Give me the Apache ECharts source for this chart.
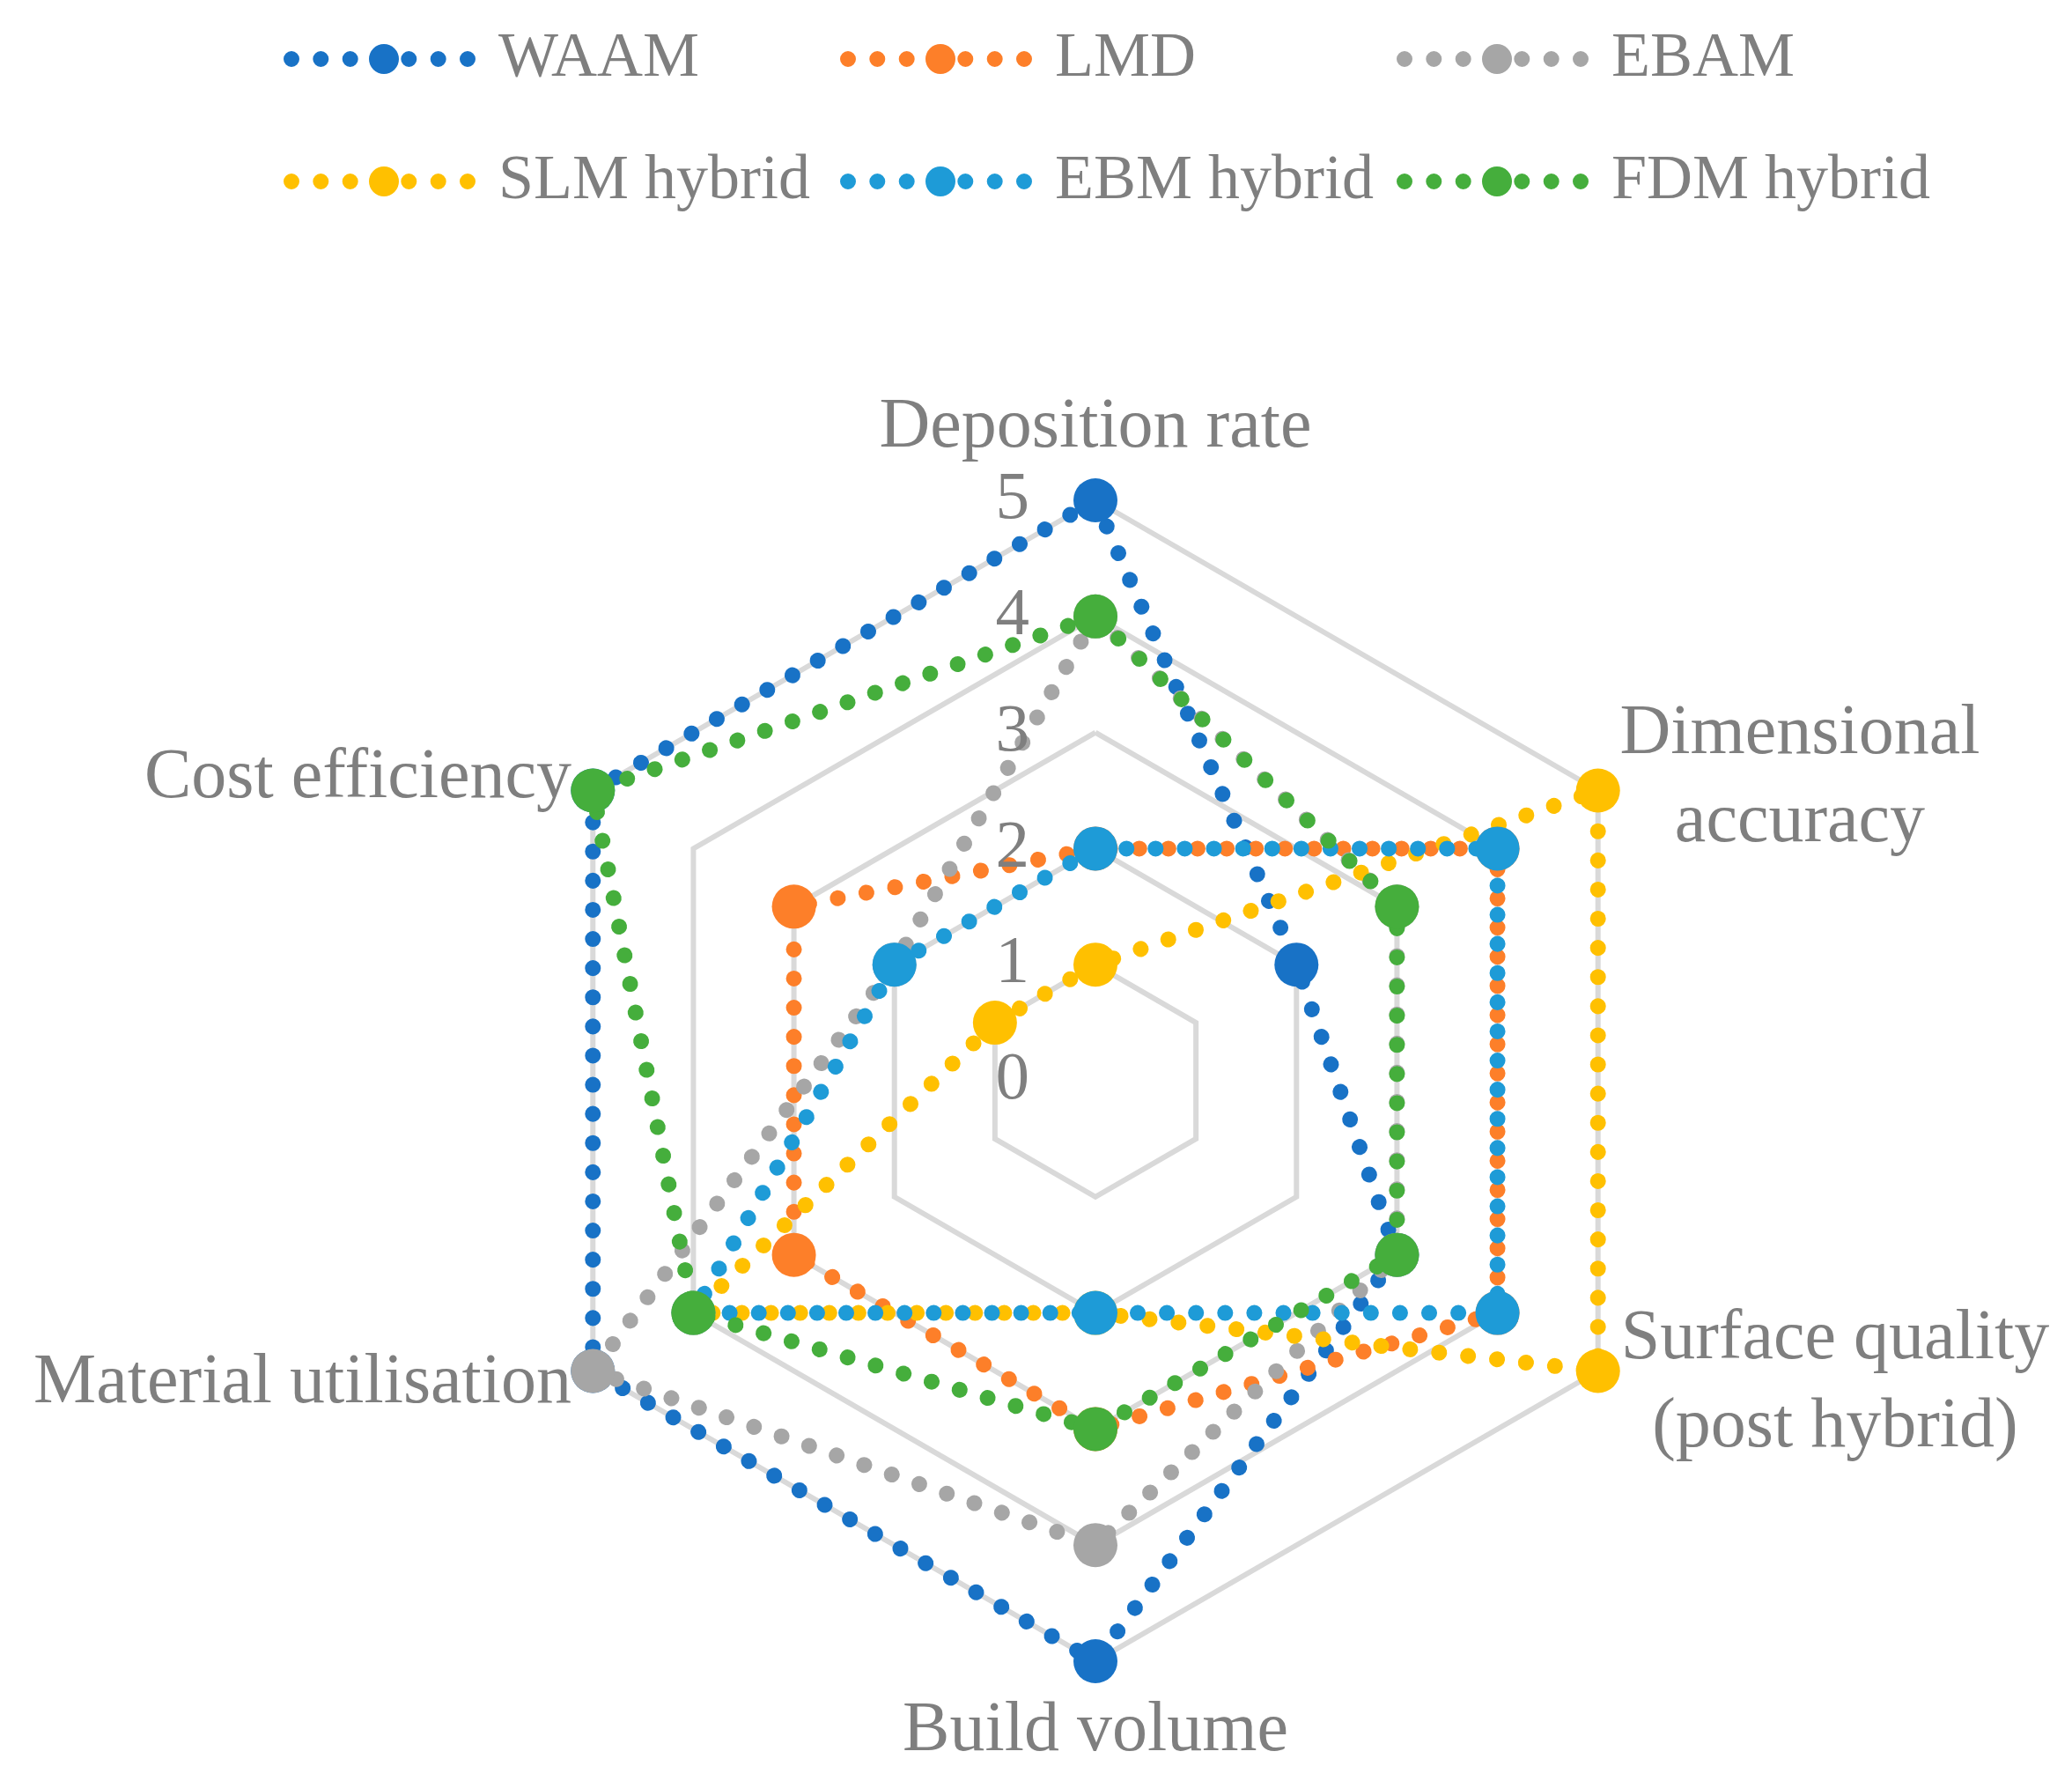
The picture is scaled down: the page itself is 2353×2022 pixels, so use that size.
<!DOCTYPE html>
<html><head><meta charset="utf-8">
<script src="https://cdn.jsdelivr.net/npm/echarts@6/dist/echarts.min.js"></script>
<style>html,body{margin:0;padding:0;background:#fff}#c{width:2353px;height:2022px}</style>
</head><body><div id="c"></div>
<script>
// Categories listed clockwise starting at the top
const categories = ['Deposition rate', 'Dimensional\naccuracy', 'Surface quality\n(post hybrid)', 'Build volume', 'Material utilisation', 'Cost efficiency'];
const seriesNames = ['WAAM', 'LMD', 'EBAM', 'SLM hybrid', 'EBM hybrid', 'FDM hybrid'];
const waam = [5, 2, 3, 5, 5, 5];
const lmd  = [2, 4, 4, 3, 3, 3];
const ebam = [4, 3, 3, 4, 5, 2];
const slm  = [1, 5, 5, 2, 4, 1];
const ebm  = [2, 4, 4, 2, 4, 2];
const fdm  = [4, 3, 3, 3, 4, 5];
const tickLabels = ['0', '1', '2', '3', '4', '5'];
const colors = ['#1872C6', '#FD7F29', '#A6A6A6', '#FFC000', '#1E9BD7', '#45AE3C'];

const allValues = [waam, lmd, ebam, slm, ebm, fdm];
const FONT = '"Liberation Serif", "DejaVu Serif", serif';
const TEXT = '#7F7F7F';
const GRID = '#D9D9D9';
const CX = 1244, CY = 1227, R = 659;

// ECharts places indicators counter-clockwise: reorder the clockwise list
const order = [0, 5, 4, 3, 2, 1];
const richKey = ['top', 'd', 's', 'bottom', 'p', 'p'];
const indicators = order.map(i => ({ name: categories[i], min: 0, max: 5, key: richKey[i] }));

function circ(cx, cy, r) {
  return 'M' + (cx - r) + ' ' + cy + ' A' + r + ' ' + r + ' 0 1 0 ' + (cx + r) + ' ' + cy +
         ' A' + r + ' ' + r + ' 0 1 0 ' + (cx - r) + ' ' + cy + ' Z';
}
const iconPath = 'path://' + [circ(9, 17, 9), circ(42.3, 17, 9), circ(75.7, 17, 9), circ(114, 17, 17),
  circ(142.3, 17, 9), circ(175.7, 17, 9), circ(209, 17, 9)].join(' ');

function legendCfg(names, centerY) {
  return {
    data: names.map(n => ({ name: n, itemStyle: { color: colors[seriesNames.indexOf(n)], borderWidth: 0 } })),
    icon: iconPath,
    left: 322, top: centerY - 40,
    padding: 0,
    orient: 'horizontal',
    itemWidth: 218, itemHeight: 34, itemGap: 18,
    selectedMode: false,
    itemStyle: { borderWidth: 0 },
    textStyle: { fontFamily: FONT, fontSize: 72, color: TEXT, lineHeight: 80, width: 370, padding: [0, 0, 0, 21] }
  };
}

const chart = echarts.init(document.getElementById('c'), null, { renderer: 'canvas' });
chart.setOption({
  animation: false,
  backgroundColor: '#fff',
  legend: [legendCfg(seriesNames.slice(0, 3), 67), legendCfg(seriesNames.slice(3), 206)],
  radar: {
    center: [CX, CY],
    radius: R,
    startAngle: 90,
    shape: 'polygon',
    splitNumber: 5,
    indicator: indicators.map(d => ({ name: d.name, min: d.min, max: d.max })),
    nameGap: 28,
    axisName: {
      color: TEXT, fontFamily: FONT, fontSize: 80,
      formatter: function (name) {
        const ind = indicators.find(d => d.name === name);
        const k = ind ? ind.key : 'p';
        return name.split('\n').map(l => '{' + k + '|' + l + '}').join('\n');
      },
      rich: {
        p: { fontFamily: FONT, fontSize: 80, color: TEXT, lineHeight: 100 },
        top: { fontFamily: FONT, fontSize: 80, color: TEXT, lineHeight: 100, padding: [0, 0, 8, 0] },
        bottom: { fontFamily: FONT, fontSize: 80, color: TEXT, lineHeight: 100, padding: [3, 0, 0, 0] },
        d: { fontFamily: FONT, fontSize: 80, color: TEXT, lineHeight: 100, width: 410, align: 'center' },
        s: { fontFamily: FONT, fontSize: 80, color: TEXT, lineHeight: 100, width: 490, align: 'center' }
      }
    },
    axisLine: { show: false },
    axisTick: { show: false },
    axisLabel: { show: false },
    splitArea: { show: false },
    splitLine: { show: true, lineStyle: { color: GRID, width: 6 } }
  },
  polar: { center: [CX, CY], radius: R },
  angleAxis: { type: 'value', min: 0, max: 360, startAngle: 90, show: false },
  radiusAxis: {
    type: 'value', min: 0, max: 5, interval: 1, z: 20,
    axisLine: { show: false }, axisTick: { show: false }, splitLine: { show: false },
    axisLabel: {
      margin: 75, fontFamily: FONT, fontSize: 77, color: TEXT,
      formatter: v => tickLabels[Math.round(v)]
    }
  },
  series: seriesNames.map((n, si) => ({
    type: 'radar',
    name: n,
    symbol: 'circle',
    symbolSize: 50,
    z: 2 + si,
    itemStyle: { color: colors[si], borderWidth: 0 },
    lineStyle: { color: colors[si], width: 18, type: [0.1, 33], cap: 'round' },
    data: [{ name: n, value: order.map(i => allValues[si][i]) }]
  }))
});
</script></body></html>
